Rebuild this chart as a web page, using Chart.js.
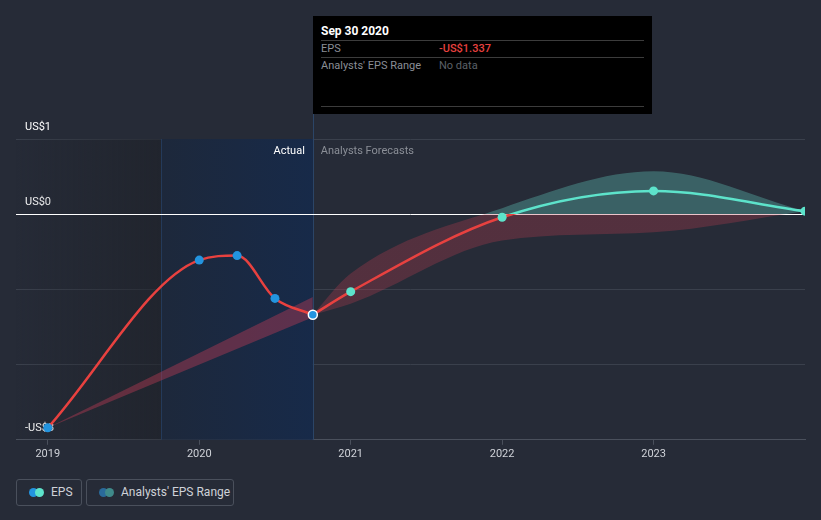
<!DOCTYPE html>
<html>
<head>
<meta charset="utf-8">
<script src="https://cdn.jsdelivr.net/npm/chart.js@4"></script>
<style>
  html, body { margin: 0; padding: 0; background: #262b37; }
  body { width: 821px; height: 520px; position: relative; overflow: hidden; font-family: Roboto, "Open Sans", sans-serif; }
  #wrap { position: absolute; left: 0; top: 0; width: 821px; height: 470px; }
  .tip { position: absolute; left: 313px; top: 16px; width: 339px; height: 98px; background: #000; font-size: 11px; }
  .tip .row { position: absolute; left: 8px; right: 8px; border-bottom: 1px solid #3c3c3c; }
  .legend { position: absolute; top: 479px; height: 27px; border: 1px solid #4a505c; border-radius: 3px; color: #cfd2d8; font-size: 12px; line-height: 25px; box-sizing: border-box; }
  .dot { position: absolute; top: 8px; width: 9px; height: 9px; border-radius: 50%; }
</style>
</head>
<body>
<div id="wrap"><canvas id="myChart" width="821" height="470"></canvas></div>

<div class="tip">
  <div class="row" style="top:8px;height:16px;color:#fff;font-weight:bold;font-size:12px;">Sep 30 2020</div>
  <div class="row" style="top:26px;height:15px;color:#8a8e96;">EPS<span style="position:absolute;left:118px;color:#e8413f;font-weight:500;">-US$1.337</span></div>
  <div class="row" style="top:43px;height:47px;color:#8a8e96;">Analysts' EPS Range<span style="position:absolute;left:118px;color:#5c6068;">No data</span></div>
</div>

<div class="legend" style="left:16px;width:66px;">
  <span class="dot" style="left:12px;background:#2394df;"></span>
  <span class="dot" style="left:18px;background:#5de3cb;"></span>
  <span style="position:absolute;left:34px;">EPS</span>
</div>
<div class="legend" style="left:86px;width:148px;">
  <span class="dot" style="left:12px;background:#2a6a9a;"></span>
  <span class="dot" style="left:18px;background:#3f8a8a;"></span>
  <span style="position:absolute;left:34px;">Analysts' EPS Range</span>
</div>

<script>
// actual EPS (fiscal period ends, in years)
const actualX = [2019, 2020, 2020.25, 2020.5, 2020.75];
const actualEps = [-2.84, -0.61, -0.55, -1.12, -1.337];

// analyst forecasts
const forecastX = [2020.75, 2021, 2022, 2023, 2024];
const forecastEps = [-1.337, -1.03, -0.04, 0.31, 0.04];
const forecastHigh = [-1.337, -0.79, 0.08, 0.57, 0.04];
const forecastLow = [-1.337, -1.19, -0.35, -0.24, 0.04];

// range shown under the actual period
const pastRangeX = [2019, 2020.75];
const pastHigh = [-2.84, -1.1];
const pastLow = [-2.84, -1.37];

const yearTicks = [2019, 2020, 2021, 2022, 2023];
const yTickLabels = { '1': 'US$1', '0': 'US$0', '-3': '-US$3' };

const toPts = (xs, ys) => xs.map((x, i) => ({ x: x, y: ys[i] }));

// colour split at the zero line
function splitColor(above, below) {
  return function (ctx) {
    const chart = ctx.chart;
    const area = chart.chartArea;
    if (!area) return below;
    const y0 = chart.scales.y.getPixelForValue(0);
    const g = chart.ctx.createLinearGradient(0, area.top, 0, area.bottom);
    let f = (y0 - area.top) / (area.bottom - area.top);
    f = Math.min(Math.max(f, 0), 1);
    g.addColorStop(0, above);
    g.addColorStop(f, above);
    g.addColorStop(f, below);
    g.addColorStop(1, below);
    return g;
  };
}

const backdrop = {
  id: 'backdrop',
  beforeDatasetsDraw(chart) {
    const { ctx, chartArea, scales } = chart;
    const xa = scales.x.getPixelForValue(2019.75);
    const xb = scales.x.getPixelForValue(2020.75);
    ctx.save();
    let g = ctx.createLinearGradient(chartArea.left, 0, xa, 0);
    g.addColorStop(0, 'rgba(30,33,40,0)');
    g.addColorStop(1, 'rgba(30,33,40,0.6)');
    ctx.fillStyle = g;
    ctx.fillRect(chartArea.left, chartArea.top, xa - chartArea.left, chartArea.bottom - chartArea.top);
    g = ctx.createLinearGradient(xa, 0, xb, 0);
    g.addColorStop(0, '#1d283b');
    g.addColorStop(1, '#172a49');
    ctx.fillStyle = g;
    ctx.fillRect(xa, chartArea.top, xb - xa, chartArea.bottom - chartArea.top);
    ctx.strokeStyle = '#243a5a';
    ctx.lineWidth = 1;
    ctx.beginPath();
    ctx.moveTo(Math.round(xa) + 0.5, chartArea.top);
    ctx.lineTo(Math.round(xa) + 0.5, chartArea.bottom);
    ctx.stroke();
    ctx.strokeStyle = '#2b4567';
    ctx.beginPath();
    ctx.moveTo(Math.round(xb) + 0.5, 16);
    ctx.lineTo(Math.round(xb) + 0.5, chartArea.bottom);
    ctx.stroke();
    // zero line
    const y0 = Math.round(scales.y.getPixelForValue(0)) + 0.5;
    ctx.strokeStyle = '#ffffff';
    ctx.beginPath();
    ctx.moveTo(chartArea.left, y0);
    ctx.lineTo(chartArea.right, y0);
    ctx.stroke();
    ctx.font = '11px Roboto';
    ctx.textBaseline = 'middle';
    ctx.textAlign = 'right';
    ctx.fillStyle = '#ffffff';
    ctx.fillText('Actual', xb - 8, chartArea.top + 12);
    ctx.textAlign = 'left';
    ctx.fillStyle = '#8b8f97';
    ctx.fillText('Analysts Forecasts', xb + 8, chartArea.top + 12);
    ctx.restore();
  }
};

const data = {
  datasets: [
    {
      label: 'EPS',
      data: toPts(actualX, actualEps),
      borderColor: '#e8413f',
      borderWidth: 2.5,
      cubicInterpolationMode: 'monotone',
      fill: false,
      pointRadius: 4.5,
      pointBackgroundColor: '#2394df',
      pointBorderColor: ['#2394df', '#2394df', '#2394df', '#2394df', '#ffffff'],
      pointBorderWidth: [0, 0, 0, 0, 1.5]
    },
    {
      label: 'forecastEps',
      data: toPts(forecastX, forecastEps),
      borderColor: splitColor('#5de3cb', '#e8413f'),
      borderWidth: 2.5,
      cubicInterpolationMode: 'monotone',
      fill: false,
      pointRadius: [0, 4.5, 4.5, 4.5, 4.5],
      pointBackgroundColor: '#5de3cb',
      pointBorderWidth: 0
    },
    {
      label: 'pastHigh',
      data: toPts(pastRangeX, pastHigh),
      borderWidth: 0,
      pointRadius: 0,
      tension: 0,
      fill: '+1',
      backgroundColor: 'rgba(190,60,85,0.42)'
    },
    {
      label: 'pastLow',
      data: toPts(pastRangeX, pastLow),
      borderWidth: 0,
      pointRadius: 0,
      tension: 0,
      fill: false
    },
    {
      label: 'forecastHigh',
      data: toPts(forecastX, forecastHigh),
      borderWidth: 0,
      pointRadius: 0,
      cubicInterpolationMode: 'monotone',
      fill: '+1',
      backgroundColor: splitColor('rgba(90,180,170,0.4)', 'rgba(190,60,80,0.3)')
    },
    {
      label: 'forecastLow',
      data: toPts(forecastX, forecastLow),
      borderWidth: 0,
      pointRadius: 0,
      cubicInterpolationMode: 'monotone',
      fill: false
    }
  ]
};

const config = {
  type: 'line',
  data: data,
  plugins: [backdrop],
  options: {
    responsive: false,
    animation: false,
    events: [],
    layout: { padding: { left: 16, right: 16, top: 139, bottom: 6 } },
    plugins: { legend: { display: false }, tooltip: { enabled: false } },
    scales: {
      x: {
        type: 'linear',
        min: 2018.79,
        max: 2024,
        afterBuildTicks: (scale) => { scale.ticks = yearTicks.map(v => ({ value: v })); },
        grid: { drawOnChartArea: false, drawTicks: true, tickLength: 5, color: '#4a505c' },
        border: { color: '#4a505c', width: 1 },
        ticks: { color: '#d0d3d9', font: { family: 'Roboto', size: 11 }, padding: 3, maxRotation: 0, callback: v => String(v) }
      },
      y: {
        min: -3,
        max: 1,
        afterBuildTicks: (scale) => { scale.ticks = [1, 0, -1, -2, -3].map(v => ({ value: v })); },
        afterFit: (scale) => { scale.width = 0; },
        grid: { drawTicks: false, color: '#3a404c' },
        border: { display: false },
        ticks: {
          mirror: true,
          padding: 9,
          labelOffset: -12,
          color: '#ffffff',
          font: { family: 'Roboto', size: 11 },
          callback: v => yTickLabels[String(v)] || ''
        }
      }
    }
  }
};

const myChart = new Chart(document.getElementById('myChart'), config);
</script>
</body>
</html>
